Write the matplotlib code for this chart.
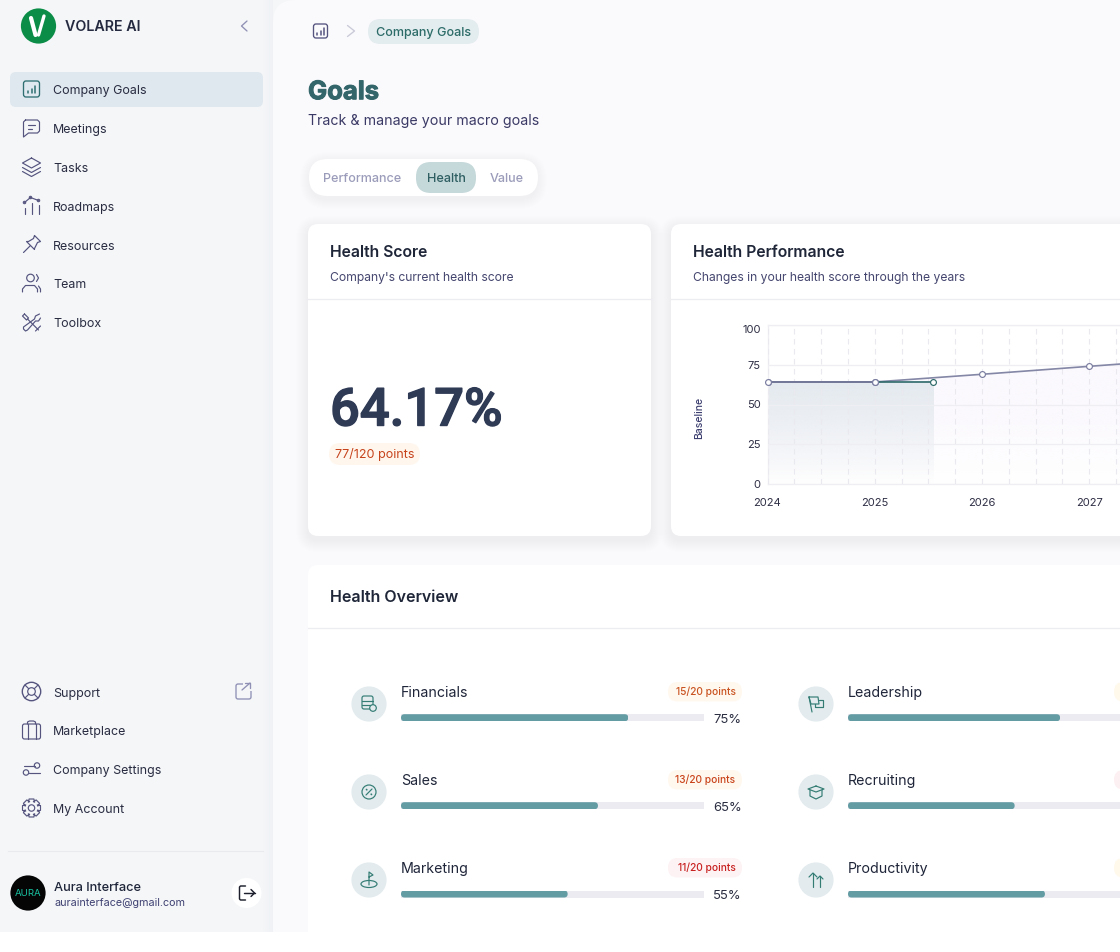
import numpy as np
import matplotlib
matplotlib.use("Agg")
import matplotlib.pyplot as plt
from matplotlib.patches import FancyBboxPatch, Circle, Rectangle, Ellipse
import matplotlib.patheffects as pe

plt.rcParams['font.family'] = ['Inter', 'DejaVu Sans']

# ---------- data ----------
forecast_years = [2024, 2025, 2026, 2027, 2028]
forecast_score = [64.17, 64.17, 69, 74, 79]
actual_years = [2024, 2025, 2025.54]
actual_score = [64.17, 64.17, 64.17]
year_ticks = [2024, 2025, 2026, 2027]
score_ticks = [0, 25, 50, 75, 100]

left_categories = ['Financials', 'Sales', 'Marketing']
left_values = [75, 65, 55]
left_points = ['15/20 points', '13/20 points', '11/20 points']
right_categories = ['Leadership', 'Recruiting', 'Productivity']
right_values = [70, 55, 65]

nav_top = ['Company Goals', 'Meetings', 'Tasks', 'Roadmaps', 'Resources', 'Team', 'Toolbox']
nav_bottom = ['Support', 'Marketplace', 'Company Settings', 'My Account']

W, H = 1120, 952
fig = plt.figure(figsize=(W / 100, H / 100), dpi=100, facecolor='white')
ax = fig.add_axes([0, 0, 1, 1], zorder=0)
ax.set_xlim(0, W)
ax.set_ylim(H, 0)
ax.axis('off')

ICON = '#55547f'
TEAL = '#2f6f72'
ROW_ICON = '#337c74'
DARK = '#20263a'
SUB = '#45466f'
ILW = 0.85


def T(x, y, s, px, color=DARK, weight=400, ha='left', bold=0, **kw):
    t = ax.text(x, y + 0.36 * px, s, fontsize=px * 0.72, color=color, fontweight=weight,
                ha=ha, va='baseline', **kw)
    if bold:
        t.set_path_effects([pe.withStroke(linewidth=bold, foreground=color)])
    return t


def RR(x0, y0, x1, y1, r, fc, ec='none', lw=0, z=1, alpha=None):
    p = FancyBboxPatch((x0 + r, y0 + r), x1 - x0 - 2 * r, y1 - y0 - 2 * r,
                       boxstyle=f'round,pad={r},rounding_size={r}', fc=fc, ec=ec, lw=lw,
                       zorder=z, alpha=alpha)
    ax.add_patch(p)
    return p


def shadow(x0, y0, x1, y1, r, spread=12, dy=3, a=0.006, z=1):
    for i in range(spread, 0, -1):
        RR(x0 - i, y0 - i + dy, x1 + i, y1 + i + dy, r + i, '#3a3f66', z=z, alpha=a)


def L(cx, cy, pts, c=ICON, lw=ILW, z=6, close=False):
    pts = list(pts)
    if close:
        pts.append(pts[0])
    xs = [cx + p[0] for p in pts]
    ys = [cy + p[1] for p in pts]
    ax.plot(xs, ys, color=c, lw=lw, zorder=z, solid_capstyle='round', solid_joinstyle='round')


def C(cx, cy, r, c=ICON, lw=ILW, fc='none', z=6):
    ax.add_patch(Circle((cx, cy), r, fc=fc, ec=c, lw=lw, zorder=z))


def icon_goals(cx, cy, c=ICON, half=8):
    ax.add_patch(FancyBboxPatch((cx - half + 2, cy - half + 2), 2 * half - 4, 2 * half - 4,
                                boxstyle='round,pad=2,rounding_size=2.5',
                                fc='none', ec=c, lw=0.95, zorder=6))
    L(cx, cy, [(-3.5, 4), (-3.5, 2)], c, 1.1)
    L(cx, cy, [(0, 4), (0, -0.5)], c, 1.1)
    L(cx, cy, [(3.5, 4), (3.5, -3.5)], c, 1.1)


def icon_meet(cx, cy):
    L(cx, cy, [(-6, -8), (6, -8), (8, -6), (8, 3), (6, 5), (-3, 5), (-8, 9), (-8, -6)], close=True)
    L(cx, cy, [(-4, -3), (3, -3)])
    L(cx, cy, [(-4, 1), (0, 1)])


def icon_tasks(cx, cy):
    L(cx, cy, [(0, -9), (9, -4), (0, 1), (-9, -4)], close=True)
    L(cx, cy, [(-9, 0.5), (0, 5.5), (9, 0.5)])
    L(cx, cy, [(-9, 4.5), (0, 9.5), (9, 4.5)])


def icon_road(cx, cy):
    L(cx, cy, [(-7, -3), (-1, -8), (7, -5)])
    for p in [(-7, -3), (-1, -8), (7, -5)]:
        C(cx + p[0], cy + p[1], 1.2, lw=0.8)
    L(cx, cy, [(-7, 2), (-7, 8)])
    L(cx, cy, [(0, -3), (0, 8)])
    L(cx, cy, [(7, -1), (7, 8)])


def icon_pin(cx, cy):
    L(cx, cy, [(3, -9), (9, -3), (6, -2), (3, 4), (3, 5), (-5, -3), (-3, -3), (2, -6)], close=True)
    L(cx, cy, [(-1, 1), (-8, 8)])


def icon_team(cx, cy):
    C(cx - 1, cy - 5, 3.8)
    L(cx, cy, [(-9, 9), (-9, 6), (-6, 2.5), (3, 2.5), (6, 6), (6, 9)])
    L(cx, cy, [(5, -8.5), (7, -5), (5, -1.5)])
    L(cx, cy, [(7, 3), (9, 6), (9, 9)])


def icon_tool(cx, cy):
    L(cx, cy, [(-7, -8), (-9, -6), (-5, -2), (-3, -4)], close=True)
    L(cx, cy, [(-4, -3), (7, 8)])
    L(cx, cy, [(8, -8), (4, -6), (3, -3), (-8, 5), (-8, 7), (-6, 9), (-4, 8), (4, -1), (7, -1), (9, -4)])
    L(cx, cy, [(4, 9), (9, 4)])


def icon_support(cx, cy):
    C(cx, cy, 9.2, lw=1.0)
    C(cx, cy, 3.8)
    for a, b in [(-1, -1), (1, -1), (-1, 1), (1, 1)]:
        L(cx, cy, [(a * 2.8, b * 2.8), (a * 6.6, b * 6.6)])


def icon_market(cx, cy):
    ax.add_patch(FancyBboxPatch((cx - 7, cy - 4), 14, 11, boxstyle='round,pad=2,rounding_size=2',
                                fc='none', ec=ICON, lw=ILW, zorder=6))
    L(cx, cy, [(-4, -6), (-4, 9)])
    L(cx, cy, [(4, -6), (4, 9)])
    L(cx, cy, [(-4, -6), (-4, -8), (-2, -9), (2, -9), (4, -8), (4, -6)])


def icon_sliders(cx, cy):
    L(cx, cy, [(-8, -3.5), (3, -3.5)])
    C(cx + 5.5, cy - 3.5, 2.7)
    L(cx, cy, [(-2.5, 3.5), (8, 3.5)])
    C(cx - 5.5, cy + 3.5, 2.7)


def icon_gear(cx, cy):
    pts = []
    n = 8
    for i in range(n):
        a = 2 * np.pi * i / n
        for da, r in [(-0.26, 9.3), (0.26, 9.3), (0.5, 6.6), (2 * np.pi / n - 0.5, 6.6)]:
            pts.append((r * np.cos(a + da), r * np.sin(a + da)))
    L(cx, cy, pts, close=True)
    C(cx, cy, 3.2)


# ---------- backgrounds ----------
ax.add_patch(Rectangle((0, 0), W, H, fc='#f4f6f8', ec='none', zorder=0))
for i in range(10):
    ax.add_patch(Rectangle((263 + i, 0), 1, 932, fc='#5a5f80', alpha=0.0028 * (i + 1), ec='none', zorder=0.5))
RR(273, 0, 1300, 1100, 22, '#faf9fc', z=0.8)

# ---------- sidebar ----------
ax.add_patch(Circle((38.5, 26), 17.6, fc='#0b8d47', ec='none', zorder=3))
L(38.5, 26, [(-7.5, -8), (-3, 9)], 'white', 3.0)
L(38.5, 26, [(0, 9), (5.5, -10)], 'white', 2.4)
T(65, 26, 'VOLARE AI', 14.3, '#252a40', 600)
L(244, 26, [(3, -5), (-2.5, 0), (3, 5)], '#8f90b4', 0.95)

RR(10, 72, 263, 107, 6, '#dfe8ee', z=1)
nav_y = [89, 128, 167, 205.5, 244.5, 283, 322]
nav_icons = [lambda x, y: icon_goals(x, y, TEAL), icon_meet, icon_tasks, icon_road, icon_pin, icon_team, icon_tool]
for name, y, f in zip(nav_top, nav_y, nav_icons):
    T(53, y + 0.6, name, 12.45, '#2a2d42', 400)
    f(31.5, y)

nav_y2 = [691.5, 730, 769, 808]
for name, y, f in zip(nav_bottom, nav_y2, [icon_support, icon_market, icon_sliders, icon_gear]):
    T(53, y + 0.6, name, 12.45, '#2a2d42', 400)
    f(31.5, y)
ax.add_patch(FancyBboxPatch((238, 686), 11, 11, boxstyle='round,pad=2,rounding_size=2', fc='none',
                            ec='#8f90b4', lw=0.95, zorder=6))
ax.add_patch(Rectangle((243, 682), 10, 9, fc='#f4f6f8', ec='none', zorder=6.2))
L(243, 691, [(-1, -1), (7, -8)], '#8f90b4', 0.95, z=7)
L(243, 691, [(2, -8), (7, -8), (7, -3)], '#8f90b4', 0.95, z=7)

ax.plot([8, 263], [850.5, 850.5], color='#e8eaee', lw=0.8, zorder=2)
ax.add_patch(Circle((28, 893), 17.6, fc='#050505', ec='none', zorder=3))
T(28, 892.5, 'AURA', 9.6, '#19c7a6', 400, ha='center', zorder=4)
T(54.5, 886, 'Aura Interface', 12.8, '#20263a', 500)
T(54.5, 902, 'aurainterface@gmail.com', 10.75, '#3f4172', 400)
ax.add_patch(Circle((246.5, 893), 15, fc='white', ec='none', zorder=3))
L(246.5, 893, [(-1, -7), (-6, -7), (-7, -6), (-7, 6), (-6, 7), (-1, 7)], '#1d1f2c', 1.05)
L(246.5, 893, [(-3, 0), (8, 0)], '#1d1f2c', 1.05)
L(246.5, 893, [(4.5, -3.5), (8, 0), (4.5, 3.5)], '#1d1f2c', 1.05)

# ---------- header ----------
icon_goals(320.5, 31, half=7)
L(351, 31, [(-3.5, -5.5), (3.5, 0), (-3.5, 5.5)], '#c9cad8', 0.95)
RR(368, 19, 479, 44, 12.5, '#e3ecef')
T(375.5, 31, 'Company Goals', 12.6, '#2c6c68', 500, zorder=3)
T(308, 90, 'Goals', 25.6, '#33666a', 700, bold=0.7, zorder=3)
T(308.5, 119.5, 'Track & manage your macro goals', 14.2, '#3b3a66', 400, zorder=3)

shadow(310, 159, 537, 196, 18, spread=10, a=0.004)
RR(309, 159, 538, 196, 18.5, 'white', z=2)
RR(416, 162, 476, 193, 15, '#c5d8da', z=3)
T(323, 177.5, 'Performance', 12.6, '#9b9cba', 500, zorder=4)
T(426.5, 177.5, 'Health', 12.6, '#2f5f62', 500, zorder=4)
T(490, 177.5, 'Value', 12.6, '#9b9cba', 500, zorder=4)

# ---------- cards ----------
for (x0, y0, x1, y1, a) in [(308, 224, 651, 536, 0.0055), (671, 224, 1300, 536, 0.0055),
                            (308, 565, 1300, 1100, 0.0012)]:
    shadow(x0, y0, x1, y1, 10, spread=12, dy=4, a=a)
    RR(x0, y0, x1, y1, 10, 'white', z=2)

ax.plot([308, 651], [299, 299], color='#ecedf1', lw=0.9, zorder=3)
ax.plot([671, 1120], [299, 299], color='#ecedf1', lw=0.9, zorder=3)
ax.plot([308, 1120], [628, 628], color='#ecedf1', lw=0.9, zorder=3)

T(330, 251, 'Health Score', 15.75, '#1f2638', 600, zorder=4)
T(330, 276.5, "Company's current health score", 12.15, SUB, 400, zorder=4)
T(693, 251, 'Health Performance', 15.75, '#1f2638', 600, zorder=4)
T(693, 276.5, 'Changes in your health score through the years', 12.15, SUB, 400, zorder=4)
big = ax.text(330, 425.5, '64.17%', fontsize=52.5 * 0.72, color='#2f3a55', family='Roboto', fontweight=500,
              ha='left', va='baseline', zorder=4)
big.set_path_effects([pe.withStroke(linewidth=1.0, foreground='#2f3a55')])
RR(329, 443, 420, 465, 11, '#fff7ee', z=3)
T(335, 453.5, '77/120 points', 12.6, '#c6431c', 400, zorder=4)
T(330, 596, 'Health Overview', 16.0, '#1f2638', 600, zorder=4)

# ---------- chart ----------
CX0, CX1 = 767.5, 1120.0
CY0, CY1 = 325.0, 484.0
px_per_year = 107.2
chart = fig.add_axes([CX0 / W, 1 - CY1 / H, (CX1 - CX0) / W, (CY1 - CY0) / H], zorder=2)
chart.set_facecolor('white')
grad_y = np.linspace(1, 0, 64)[:, None]
rgba_a = np.ones((64, 1, 4))
rgba_a[..., :3] = matplotlib.colors.to_rgb('#e4eaef')
rgba_a[..., 3] = grad_y[:, 0, None] ** 0.9
chart.imshow(rgba_a, extent=[actual_years[0], actual_years[-1], 0, actual_score[-1]],
             aspect='auto', zorder=1.2, interpolation='bilinear')
rgba_f = np.ones((64, 1, 4))
rgba_f[..., :3] = matplotlib.colors.to_rgb('#fbf9fd')
rgba_f[..., 3] = np.clip(grad_y[:, 0, None] * 1.8, 0, 1)
im = chart.imshow(rgba_f, extent=[2024, 2028, 0, 79], aspect='auto', zorder=1, interpolation='bilinear')
poly = chart.fill_between(forecast_years, forecast_score, 0, color='none', lw=0)
im.set_clip_path(poly.get_paths()[0], transform=chart.transData)

chart.plot(forecast_years, forecast_score, color='#8487a6', lw=1.2, zorder=3,
           marker='o', ms=4.2, mfc='white', mec='#7b7ea0', mew=0.85, clip_on=True)
chart.plot(actual_years[1:], actual_score[1:], color='#2f6a6a', lw=1.2, zorder=3.5)
chart.plot(actual_years[-1:], actual_score[-1:], color='#2f6a6a', ls='none', zorder=4,
           marker='o', ms=4.2, mfc='white', mec='#2f6a6a', mew=0.85)
chart.plot(actual_years[:2], actual_score[:2], color='#6f7394', lw=1.2, zorder=3.6,
           marker='o', ms=4.2, mfc='white', mec='#7b7ea0', mew=0.85, clip_on=False)

chart.set_xlim(2024, 2024 + (CX1 - CX0) / px_per_year)
chart.set_ylim(0, 100)
chart.set_xticks(year_ticks)
chart.set_yticks(score_ticks)
chart.set_xticks(np.arange(2024, 2027.5, 0.25), minor=True)
chart.tick_params(axis='both', which='both', length=0)
chart.tick_params(axis='x', pad=10, labelsize=8.0, labelcolor='#2e2e45')
chart.tick_params(axis='y', pad=5, labelsize=8.0, labelcolor='#2e2e45')
chart.yaxis.get_major_ticks()[-1].label1.set_verticalalignment('top')
chart.grid(axis='y', color='#eeeef3', lw=0.9, zorder=2)
chart.grid(axis='x', which='both', color='#e9e9ef', lw=0.8, ls=(0, (5, 4)), zorder=2)
chart.set_axisbelow(False)
for s, sp in chart.spines.items():
    sp.set_color('#eeeef3')
    sp.set_linewidth(0.9)
chart.spines['right'].set_visible(False)
chart.set_ylabel('Baseline', fontsize=7.5, color='#3d3f70', fontweight=500)
chart.yaxis.set_label_coords((704 - CX0) / (CX1 - CX0), (CY1 - 418) / (CY1 - CY0))


# ---------- overview rows ----------
def progress(x0, x1, yc, value, full=303.0):
    h = 7.0
    a = fig.add_axes([x0 / W, 1 - (yc + h / 2) / H, (x1 - x0) / W, h / H], zorder=2)
    a.set_xlim(0, (x1 - x0) / full * 100)
    a.set_ylim(-0.5, 0.5)
    a.axis('off')
    a.barh([0], [100], height=1, color='#ebebf1', zorder=1)
    bar = a.barh([0], [value], height=1, color='#649ca4', zorder=2)[0]
    rx = 3.5 / full * 100
    clip = FancyBboxPatch((rx, 0), value - 2 * rx, 0.0, boxstyle=f'round,pad={rx},rounding_size={rx}',
                          mutation_aspect=(1 / h) / (100 / full), transform=a.transData, fc='none', ec='none')
    a.add_patch(clip)
    bar.set_clip_path(clip)


def row_icon(i, cx, cy, col):
    c = ROW_ICON
    if col == 0 and i == 0:
        ax.add_patch(FancyBboxPatch((cx - 6, cy - 7), 9, 11, boxstyle='round,pad=1,rounding_size=2', fc='none', ec=c, lw=ILW, zorder=6))
        L(cx, cy, [(-7, -3), (4, -3)], c)
        L(cx, cy, [(-7, 1), (4, 1)], c)
        C(cx + 4, cy + 4, 3.3, c, ILW, fc='#e3ebee')
    elif col == 0 and i == 1:
        C(cx, cy, 7, c)
        L(cx, cy, [(-3, 3), (3, -3)], c)
        L(cx, cy, [(-2.5, -2.5), (-2.2, -2.2)], c, 1.2)
        L(cx, cy, [(2.5, 2.5), (2.2, 2.2)], c, 1.2)
    elif col == 0 and i == 2:
        ax.add_patch(Ellipse((cx, cy + 4), 16, 7, fc='none', ec=c, lw=ILW, zorder=6))
        L(cx, cy, [(0, 5), (0, -8), (4, -5), (0, -3)], c)
    elif col == 1 and i == 0:
        L(cx, cy, [(-7, -7), (2, -7), (3, 0), (-5, 0)], c, close=True)
        L(cx, cy, [(-7, -7), (-4, 8)], c)
        L(cx, cy, [(3, -4), (7, -4), (7, 3), (-1, 3), (-1, 0)], c)
    elif col == 1 and i == 1:
        L(cx, cy, [(0, -6), (8, -3), (0, 0), (-8, -3)], c, close=True)
        L(cx, cy, [(-6, -2), (-6, 4), (0, 7), (6, 4), (6, -2)], c)
    else:
        L(cx, cy, [(-3, 7), (-3, -7)], c)
        L(cx, cy, [(-7, -3), (-3, -7), (1, -3)], c)
        L(cx, cy, [(4, 7), (4, -4)], c)
        L(cx, cy, [(1, -1), (4, -4), (7, -1)], c)


row_y = [692, 780, 868]
bar_y = [717.7, 805.7, 894]
badge_styles = [('#fff8ef', '#c9521f'), ('#fff8ef', '#c9431a'), ('#fdf2f4', '#c8201f')]
for i, (cat, val, pts) in enumerate(zip(left_categories, left_values, left_points)):
    ax.add_patch(Circle((369, row_y[i] + 12), 17.6, fc='#e3ebee', ec='none', zorder=3))
    row_icon(i, 369, row_y[i] + 12, 0)
    T(401, row_y[i], cat, 14.2, '#20263a', 400, zorder=4)
    bg, fg = badge_styles[i]
    RR(668, row_y[i] - 10, 742, row_y[i] + 9.5, 9.5, bg, z=3)
    T(735.5, row_y[i] - 0.5, pts, 10.2, fg, 500, ha='right', zorder=4)
    progress(401, 704, bar_y[i], val)
    T(742, bar_y[i] + 0.5, f'{val}%', 13, '#2c2f42', 400, ha='right', zorder=4)

right_badges = ['#fff9ec', '#fdf0f2', '#fff9ec']
for i, (cat, val) in enumerate(zip(right_categories, right_values)):
    ax.add_patch(Circle((816, row_y[i] + 12), 17.6, fc='#e3ebee', ec='none', zorder=3))
    row_icon(i, 816, row_y[i] + 12, 1)
    T(848, row_y[i], cat, 14.2, '#20263a', 400, zorder=4)
    RR(1114, row_y[i] - 10, 1190, row_y[i] + 9.5, 9.5, right_badges[i], z=3)
    progress(848, 1120, bar_y[i], val)

ax.add_patch(Rectangle((0, 932), W, 20, fc='white', ec='none', zorder=9))
fig.savefig('out.png', dpi=100, facecolor='white')
